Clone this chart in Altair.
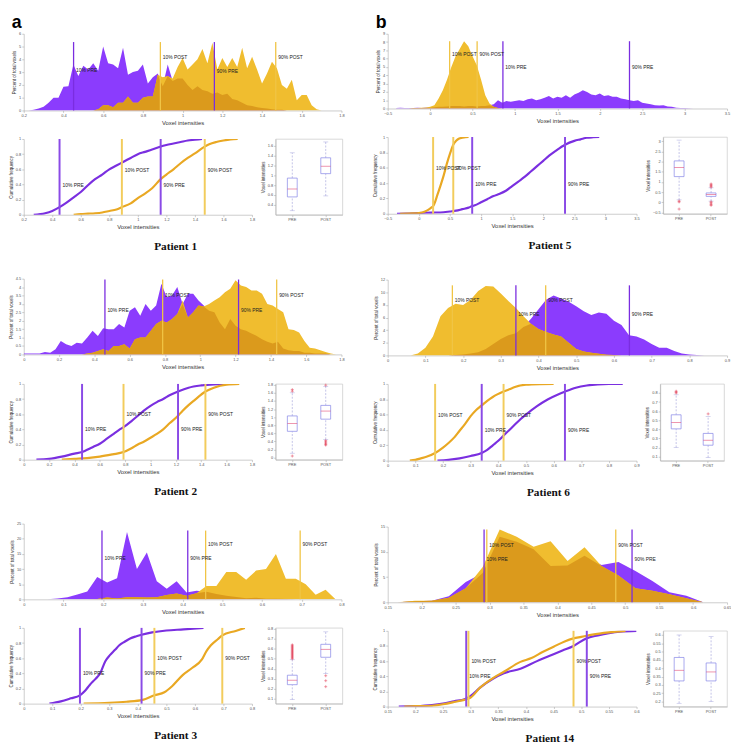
import altair as alt
import pandas as pd
import numpy as np

# ---------------- colours ----------------
PURPLE = "#8b3cfd"
GOLD = "#f0bd2f"
DARK = "#db9a1c"
PRE_LINE = "#7a2de0"
POST_LINE = "#f0c445"
CDF_PRE = "#7a2fe0"
CDF_POST = "#e9a823"
BOX_BLUE = "#8383e6"
MED_RED = "#e0406e"

Q_NAMES = ["10% PRE", "90% PRE", "10% POST", "90% POST"]
Q_KIND = ["PRE", "PRE", "POST", "POST"]
BOX_CATS = ["PRE", "POST"]

# ---------------- Patient 1 ----------------
p1_x = [0.225, 0.25, 0.275, 0.3, 0.325, 0.35, 0.375, 0.4, 0.425, 0.45, 0.475, 0.5, 0.525, 0.55, 0.575, 0.6,
        0.625, 0.65, 0.675, 0.7, 0.725, 0.75, 0.775, 0.8, 0.825, 0.85, 0.875, 0.9, 0.925, 0.95, 0.975, 1.0,
        1.025, 1.05, 1.075, 1.1, 1.125, 1.15, 1.175, 1.2, 1.225, 1.25, 1.275, 1.3, 1.325, 1.35, 1.375, 1.4,
        1.425, 1.45, 1.475, 1.5, 1.525, 1.55, 1.575, 1.6, 1.625, 1.65, 1.675, 1.7]
p1_pre = [0, 0.05, 0.15, 0.3, 0.6, 1.0, 1.0, 1.85, 1.9, 3.6, 2.7, 3.5, 3.2, 3.7, 3.1, 5.0,
          3.7, 3.6, 3.3, 4.9, 2.8, 3.0, 3.1, 3.6, 2.1, 2.6, 2.9, 1.9, 3.6, 2.3, 2.5, 2.5,
          2.0, 1.6, 1.9, 1.6, 1.5, 1.3, 1.4, 1.2, 1.3, 0.9, 0.8, 0.6, 0.4, 0.35, 0.25, 0.2,
          0.15, 0.1, 0.05, 0.05, 0, 0, 0, 0, 0, 0, 0, 0]
p1_post = [0, 0, 0, 0, 0, 0, 0, 0, 0, 0, 0, 0, 0, 0, 0.1, 0.4,
           0.4, 0.25, 0.6, 0.6, 1.1, 0.6, 0.6, 1.0, 1.1, 1.1, 2.8, 2.6, 2.7, 2.5, 3.4, 4.1,
           3.2, 3.6, 4.0, 4.8, 3.7, 5.3, 3.2, 4.1, 3.4, 4.1, 3.4, 4.9, 3.3, 4.2, 3.2, 2.1,
           2.9, 3.8, 3.3, 2.0, 1.7, 2.4, 0.8, 1.2, 1.2, 0.4, 0.1, 0]
p1_q = [0.451, 1.16, 0.888, 1.469]
p1_hist_label_y = [3.2, 3.1, 4.2, 4.2]
p1_cdf_label_y = [0.39, 0.39, 0.59, 0.59]
p1_top = 5.35
p1_cdf_pre_x = [0.27, 0.35, 0.4, 0.451, 0.5, 0.55, 0.6, 0.65, 0.7, 0.75, 0.8, 0.85, 0.9, 0.95, 1.0, 1.05,
                1.1, 1.16, 1.2, 1.25, 1.3, 1.35, 1.4, 1.45]
p1_cdf_pre_y = [0, 0.02, 0.05, 0.1, 0.16, 0.23, 0.3, 0.39, 0.47, 0.53, 0.6, 0.65, 0.7, 0.75, 0.8, 0.83,
                0.86, 0.9, 0.92, 0.94, 0.96, 0.98, 0.99, 1.0]
p1_cdf_post_x = [0.55, 0.6, 0.65, 0.7, 0.75, 0.8, 0.85, 0.888, 0.95, 1.0, 1.05, 1.1, 1.16, 1.2, 1.25, 1.3,
                 1.35, 1.4, 1.469, 1.5, 1.55, 1.6, 1.65, 1.7]
p1_cdf_post_y = [0, 0.01, 0.015, 0.02, 0.03, 0.05, 0.07, 0.1, 0.15, 0.22, 0.28, 0.35, 0.47, 0.53, 0.6, 0.68,
                 0.75, 0.81, 0.9, 0.93, 0.96, 0.98, 0.995, 1.0]
p1_box_lo = [0.28, 0.58]
p1_box_q1 = [0.56, 1.03]
p1_box_med = [0.72, 1.18]
p1_box_q3 = [0.94, 1.35]
p1_box_hi = [1.45, 1.67]
p1_out_cat = []
p1_out_val = []

# ---------------- Patient 2 ----------------
p2_x = [0.0, 0.03, 0.06, 0.09, 0.12, 0.15, 0.18, 0.21, 0.24, 0.27, 0.3, 0.33, 0.36, 0.39, 0.42, 0.45,
        0.48, 0.51, 0.54, 0.57, 0.6, 0.63, 0.66, 0.69, 0.72, 0.75, 0.78, 0.81, 0.84, 0.87, 0.9, 0.93,
        0.96, 0.99, 1.02, 1.05, 1.08, 1.11, 1.14, 1.17, 1.2, 1.23, 1.26, 1.29, 1.32, 1.35, 1.38, 1.41,
        1.44, 1.47, 1.5, 1.53, 1.56, 1.59, 1.62, 1.65, 1.68, 1.71, 1.74, 1.77]
p2_pre = [0.05, 0.05, 0.05, 0.05, 0.15, 0.1, 0.3, 0.8, 0.6, 0.5, 0.7, 0.65, 1.0, 1.4, 1.1, 1.55,
          1.5, 1.5, 1.8, 1.6, 2.6, 2.8, 2.3, 3.0, 2.6, 2.9, 4.2, 3.4, 3.5, 4.0, 3.0, 3.6,
          3.6, 3.2, 2.9, 2.6, 2.5, 1.9, 1.5, 2.1, 1.7, 1.5, 1.4, 1.25, 1.1, 0.9, 0.75, 0.65,
          0.75, 0.35, 0.25, 0.2, 0.2, 0.1, 0.1, 0.05, 0.05, 0.05, 0, 0]
p2_post = [0, 0, 0, 0, 0, 0, 0, 0, 0, 0, 0, 0, 0.05, 0.1, 0.2, 0.3,
           0.2, 0.5, 0.5, 0.6, 0.35, 0.9, 1.0, 1.0, 1.4, 1.8, 2.0, 1.9, 2.1, 2.4, 3.2, 2.2,
           2.5, 2.9, 2.85, 3.0, 3.2, 3.4, 3.7, 3.9, 4.4, 4.1, 4.0, 3.8, 3.8, 3.6, 3.0, 2.9,
           2.7, 2.5, 1.5, 1.45, 1.3, 0.8, 0.4, 0.35, 0.25, 0.15, 0.05, 0]
p2_q = [0.46, 1.217, 0.787, 1.433]
p2_hist_label_y = [2.65, 2.65, 3.55, 3.55]
p2_cdf_label_y = [0.4, 0.4, 0.6, 0.6]
p2_top = 4.45
p2_cdf_pre_x = [0.1, 0.2, 0.3, 0.4, 0.46, 0.5, 0.55, 0.6, 0.65, 0.7, 0.75, 0.787, 0.85, 0.9, 0.95, 1.0,
                1.05, 1.1, 1.15, 1.217, 1.3, 1.4, 1.5, 1.6]
p2_cdf_pre_y = [0, 0.01, 0.04, 0.08, 0.1, 0.13, 0.17, 0.21, 0.27, 0.33, 0.39, 0.43, 0.51, 0.58, 0.65, 0.71,
                0.76, 0.8, 0.85, 0.9, 0.95, 0.98, 0.995, 1.0]
p2_cdf_post_x = [0.3, 0.4, 0.5, 0.6, 0.7, 0.787, 0.85, 0.9, 0.95, 1.0, 1.05, 1.1, 1.15, 1.217, 1.25, 1.3,
                 1.35, 1.433, 1.5, 1.6, 1.7]
p2_cdf_post_y = [0, 0.01, 0.02, 0.04, 0.07, 0.1, 0.15, 0.2, 0.24, 0.29, 0.34, 0.4, 0.48, 0.58, 0.64, 0.72,
                 0.79, 0.9, 0.95, 0.99, 1.0]
p2_box_lo = [0.11, 0.45]
p2_box_q1 = [0.65, 0.95]
p2_box_med = [0.84, 1.15]
p2_box_q3 = [1.03, 1.29]
p2_box_hi = [1.6, 1.76]
p2_out_cat = ["PRE", "PRE", "PRE", "POST", "POST", "POST", "POST", "POST", "POST"]
p2_out_val = [1.64, 1.68, 0.04, 1.79, 0.42, 0.39, 0.36, 0.33, 0.31]

# ---------------- Patient 3 ----------------
p3_x = [0.035, 0.06, 0.085, 0.11, 0.135, 0.16, 0.185, 0.21, 0.235, 0.26, 0.285, 0.31, 0.335, 0.36, 0.385, 0.41,
        0.435, 0.46, 0.485, 0.51, 0.535, 0.56, 0.585, 0.61, 0.635, 0.66, 0.685, 0.71, 0.735, 0.76, 0.785]
p3_pre = [0, 0, 0.3, 0.7, 1.6, 2.6, 7.4, 5.6, 7.0, 22.2, 10.0, 15.5, 6.0, 3.5, 6.0, 2.3,
          2.8, 2.5, 1.8, 1.2, 0.8, 0.4, 0.5, 0.2, 0.2, 0.1, 0.05, 0.05, 0, 0, 0]
p3_post = [0, 0, 0, 0, 0, 0, 0.1, 0.6, 0.3, 0.7, 0.7, 0.6, 0.7, 1.4, 1.9, 1.2,
           2.0, 4.4, 4.4, 9.0, 9.0, 6.5, 9.5, 10.0, 15.0, 6.8, 6.8, 5.0, 1.5, 3.2, 0]
p3_q = [0.197, 0.413, 0.458, 0.696]
p3_hist_label_y = [13.6, 13.6, 18.2, 18.2]
p3_cdf_label_y = [0.41, 0.41, 0.6, 0.6]
p3_top = 22.7
p3_cdf_pre_x = [0.09, 0.13, 0.165, 0.197, 0.215, 0.232, 0.25, 0.268, 0.286, 0.302, 0.32, 0.335, 0.355, 0.373,
                0.395, 0.413, 0.45, 0.5, 0.56, 0.63]
p3_cdf_pre_y = [0, 0.03, 0.07, 0.11, 0.17, 0.25, 0.32, 0.4, 0.56, 0.64, 0.71, 0.77, 0.82, 0.86,
                0.89, 0.91, 0.94, 0.965, 0.98, 1.0]
p3_cdf_post_x = [0.21, 0.3, 0.36, 0.417, 0.458, 0.493, 0.52, 0.558, 0.59, 0.624, 0.64, 0.656, 0.68, 0.696,
                 0.743, 0.775]
p3_cdf_post_y = [0, 0.01, 0.025, 0.05, 0.11, 0.15, 0.23, 0.38, 0.47, 0.58, 0.69, 0.77, 0.85, 0.9, 0.96, 1.0]
p3_box_lo = [0.09, 0.35]
p3_box_q1 = [0.24, 0.515]
p3_box_med = [0.285, 0.595]
p3_box_q3 = [0.335, 0.645]
p3_box_hi = [0.49, 0.77]
p3_out_cat = ["PRE"] * 15 + ["POST"] * 3
p3_out_val = [0.5, 0.51, 0.52, 0.53, 0.54, 0.55, 0.56, 0.57, 0.58, 0.59, 0.6, 0.61, 0.62, 0.63, 0.64,
              0.33, 0.28, 0.22]

# ---------------- Patient 5 ----------------
p5_x = [-0.4, -0.35, -0.3, -0.25, -0.2, -0.15, -0.1, -0.05, 0.0, 0.05, 0.1, 0.15, 0.2, 0.25, 0.3, 0.35,
        0.4, 0.45, 0.5, 0.55, 0.6, 0.65, 0.7, 0.75, 0.8, 0.85, 0.9, 0.95, 1.0, 1.05, 1.1, 1.15,
        1.2, 1.25, 1.3, 1.35, 1.4, 1.45, 1.5, 1.55, 1.6, 1.65, 1.7, 1.75, 1.8, 1.85, 1.9, 1.95,
        2.0, 2.05, 2.1, 2.15, 2.2, 2.25, 2.3, 2.35, 2.4, 2.45, 2.5, 2.55, 2.6, 2.65, 2.7, 2.75,
        2.8, 2.85, 2.9, 2.95, 3.0, 3.05, 3.1]
p5_pre = [0.05, 0.1, 0.05, 0.05, 0.05, 0.1, 0.05, 0.1, 0.1, 0.15, 0.2, 0.2, 0.25, 0.3, 0.3, 0.3,
          0.25, 0.3, 0.3, 0.25, 0.3, 0.3, 0.4, 0.5, 1.0, 0.7, 0.9, 0.8, 0.9, 1.0, 0.9, 1.1,
          1.2, 1.0, 1.1, 1.3, 1.5, 1.2, 1.4, 1.3, 1.6, 1.3, 1.7, 1.9, 2.2, 2.0, 1.7, 1.6,
          1.8, 1.5, 1.6, 1.4, 1.4, 1.2, 1.1, 1.0, 0.9, 1.0, 0.7, 0.6, 0.5, 0.4, 0.35, 0.4,
          0.25, 0.2, 0.1, 0.05, 0.05, 0.02, 0]
p5_post = [0, 0, 0, 0, 0.05, 0.05, 0.1, 0.1, 0.2, 0.4, 1.2, 2.2, 3.5, 5.0, 6.3, 7.2,
           8.1, 7.5, 6.3, 5.2, 3.5, 1.6, 0.6, 0.2, 0.05, 0, 0, 0, 0, 0, 0, 0,
           0, 0, 0, 0, 0, 0, 0, 0, 0, 0, 0, 0, 0, 0, 0, 0,
           0, 0, 0, 0, 0, 0, 0, 0, 0, 0, 0, 0, 0, 0, 0, 0,
           0, 0, 0, 0, 0, 0, 0]
p5_q = [0.858, 2.35, 0.23, 0.554]
p5_hist_label_y = [5.0, 5.0, 6.5, 6.5]
p5_cdf_label_y = [0.39, 0.39, 0.59, 0.59]
p5_top = 8.1
p5_cdf_pre_x = [-0.35, -0.2, 0.0, 0.2, 0.4, 0.5, 0.6, 0.7, 0.8, 0.858, 0.9, 1.0, 1.1, 1.2, 1.3, 1.4,
                1.5, 1.6, 1.7, 1.8, 1.9, 2.0, 2.1, 2.2, 2.35, 2.5, 2.6, 2.7, 2.8, 2.9]
p5_cdf_pre_y = [0, 0.003, 0.01, 0.015, 0.02, 0.03, 0.04, 0.06, 0.08, 0.1, 0.11, 0.15, 0.19, 0.23, 0.26, 0.3,
                0.36, 0.42, 0.48, 0.55, 0.62, 0.69, 0.76, 0.82, 0.9, 0.95, 0.97, 0.99, 0.997, 1.0]
p5_cdf_post_x = [-0.3, -0.1, 0.0, 0.1, 0.15, 0.2, 0.23, 0.25, 0.3, 0.35, 0.4, 0.45, 0.5, 0.554, 0.6, 0.65,
                 0.7, 0.75, 0.8]
p5_cdf_post_y = [0, 0.005, 0.01, 0.03, 0.05, 0.08, 0.1, 0.13, 0.25, 0.37, 0.5, 0.65, 0.78, 0.9, 0.95, 0.98,
                 0.99, 0.997, 1.0]
p5_box_lo = [0.12, 0.06]
p5_box_q1 = [1.26, 0.29]
p5_box_med = [1.71, 0.38]
p5_box_q3 = [2.03, 0.46]
p5_box_hi = [3.05, 0.71]
p5_out_cat = ["PRE", "PRE", "PRE", "POST", "POST", "POST", "POST", "POST", "POST", "POST", "POST"]
p5_out_val = [0.06, 0.02, -0.33, 0.75, 0.8, 0.85, 0.9, 0.02, -0.03, -0.1, -0.15]

# ---------------- Patient 6 ----------------
p6_x = [0.06, 0.08, 0.1, 0.12, 0.14, 0.16, 0.18, 0.2, 0.22, 0.24, 0.26, 0.28, 0.3, 0.32, 0.34, 0.36,
        0.38, 0.4, 0.42, 0.44, 0.46, 0.48, 0.5, 0.52, 0.54, 0.56, 0.58, 0.6, 0.62, 0.64, 0.66, 0.68,
        0.7, 0.72, 0.74, 0.76, 0.78, 0.8, 0.82, 0.84]
p6_pre = [0, 0, 0, 0, 0, 0, 0.05, 0.15, 0.3, 0.5, 1.0, 1.8, 2.6, 3.2, 3.5, 4.5,
          5.8, 7.3, 8.8, 9.5, 9.0, 8.5, 7.8, 7.0, 6.4, 6.8, 6.6, 5.5, 4.8, 3.2, 3.0, 2.5,
          1.8, 1.2, 1.2, 0.7, 0.3, 0.15, 0.05, 0]
p6_post = [0, 0.3, 1.2, 3.0, 6.2, 7.5, 8.2, 8.0, 8.8, 10.2, 11.0, 10.9, 9.8, 8.6, 7.5, 6.2,
           5.0, 4.2, 3.7, 3.3, 3.0, 2.0, 1.0, 0.6, 0.4, 0.25, 0.1, 0.05, 0, 0, 0, 0,
           0, 0, 0, 0, 0, 0, 0, 0]
p6_q = [0.34, 0.641, 0.1715, 0.419]
p6_hist_label_y = [6.6, 6.6, 8.8, 8.8]
p6_cdf_label_y = [0.4, 0.4, 0.6, 0.6]
p6_top = 11.1
p6_cdf_pre_x = [0.18, 0.22, 0.26, 0.3, 0.34, 0.36, 0.38, 0.4, 0.42, 0.44, 0.46, 0.48, 0.5, 0.54, 0.58, 0.62,
                0.641, 0.68, 0.72, 0.76, 0.8, 0.85]
p6_cdf_pre_y = [0, 0.01, 0.03, 0.06, 0.1, 0.14, 0.2, 0.26, 0.33, 0.4, 0.47, 0.54, 0.6, 0.71, 0.8, 0.87,
                0.9, 0.95, 0.98, 0.995, 0.999, 1.0]
p6_cdf_post_x = [0.08, 0.1, 0.12, 0.14, 0.1715, 0.2, 0.22, 0.24, 0.26, 0.28, 0.3, 0.32, 0.34, 0.36, 0.38,
                 0.419, 0.44, 0.46, 0.5, 0.55, 0.6]
p6_cdf_post_y = [0, 0.01, 0.03, 0.05, 0.1, 0.17, 0.23, 0.3, 0.39, 0.48, 0.58, 0.66, 0.72, 0.78, 0.83,
                 0.9, 0.93, 0.96, 0.99, 0.998, 1.0]
p6_box_lo = [0.2, 0.09]
p6_box_q1 = [0.405, 0.225]
p6_box_med = [0.475, 0.28]
p6_box_q3 = [0.56, 0.355]
p6_box_hi = [0.78, 0.54]
p6_out_cat = ["PRE", "PRE", "PRE", "POST"]
p6_out_val = [0.8, 0.81, 0.82, 0.57]

# ---------------- Patient 14 ----------------
p14_x = [0.165, 0.19, 0.215, 0.24, 0.265, 0.29, 0.315, 0.34, 0.365, 0.39, 0.415, 0.44, 0.465, 0.49, 0.515,
         0.54, 0.565, 0.59, 0.615]
p14_pre = [0, 0.2, 0.3, 1.2, 4.0, 5.8, 13.0, 12.0, 10.5, 7.2, 7.3, 9.2, 7.4, 8.0, 6.2, 4.2, 2.0, 1.3, 0]
p14_post = [0, 0.3, 0.3, 0.9, 2.8, 7.0, 14.4, 13.0, 11.0, 12.1, 8.2, 10.9, 7.2, 5.3, 2.8, 2.3, 1.6, 0.8, 0]
p14_q = [0.292, 0.51, 0.296, 0.486]
p14_hist_label_y = [8.6, 8.6, 11.4, 11.4]
p14_cdf_label_y = [0.4, 0.4, 0.6, 0.6]
p14_top = 14.4
p14_cdf_pre_x = [0.17, 0.2, 0.23, 0.25, 0.27, 0.29, 0.3, 0.317, 0.341, 0.36, 0.39, 0.42, 0.443, 0.466, 0.486,
                 0.509, 0.53, 0.55, 0.57, 0.6]
p14_cdf_pre_y = [0, 0.005, 0.02, 0.04, 0.07, 0.1, 0.14, 0.25, 0.37, 0.44, 0.5, 0.6, 0.67, 0.74, 0.8,
                 0.9, 0.94, 0.97, 0.99, 1.0]
p14_cdf_post_x = [0.18, 0.2, 0.23, 0.25, 0.27, 0.2935, 0.3, 0.317, 0.341, 0.36, 0.39, 0.41, 0.43, 0.45, 0.47,
                  0.486, 0.5, 0.52, 0.55, 0.58]
p14_cdf_post_y = [0, 0.005, 0.01, 0.03, 0.06, 0.1, 0.12, 0.25, 0.38, 0.46, 0.59, 0.64, 0.72, 0.79, 0.86,
                  0.9, 0.92, 0.95, 0.98, 1.0]
p14_box_lo = [0.19, 0.2]
p14_box_q1 = [0.324, 0.324]
p14_box_med = [0.388, 0.378]
p14_box_q3 = [0.465, 0.432]
p14_box_hi = [0.6, 0.59]
p14_out_cat = []
p14_out_val = []


def frange(a, b, s):
    n = int(round((b - a) / s))
    return [round(a + i * s, 4) for i in range(n + 1)]


def xenc(field, dom, ticks, title="Voxel intensities"):
    sc = alt.Scale(domain=dom, nice=False, zero=False)
    return alt.X(field, type="quantitative", scale=sc,
                 axis=alt.Axis(values=ticks, format="~g", title=title))


def yenc(field, dom, ticks, title):
    sc = alt.Scale(domain=dom, nice=False, zero=False)
    return alt.Y(field, type="quantitative", scale=sc,
                 axis=alt.Axis(values=ticks, format="~g", title=title))


def quant_df(q, label_y, top):
    return pd.DataFrame({"v": q, "name": Q_NAMES, "kind": Q_KIND, "ly": label_y,
                         "zero": [0] * 4, "top": [top] * 4})


def hist_panel(x, pre, post, q, label_y, top, xdom, xt, ydom, yt, w, h, title=None):
    df = pd.DataFrame({"x": x, "pre": pre, "post": post})
    df["ovl"] = np.minimum(df["pre"], df["post"])
    yt_ = "Percent of total voxels"
    base = alt.Chart(df)
    a1 = base.mark_area(color=PURPLE, clip=True).encode(
        x=xenc("x", xdom, xt), y=yenc("pre", ydom, yt, yt_))
    a2 = base.mark_area(color=GOLD, clip=True).encode(
        x=xenc("x", xdom, xt), y=yenc("post", ydom, yt, yt_))
    a3 = base.mark_area(color=DARK, clip=True).encode(
        x=xenc("x", xdom, xt), y=yenc("ovl", ydom, yt, yt_))
    qd = alt.Chart(quant_df(q, label_y, top))
    cscale = alt.Scale(domain=["PRE", "POST"], range=[PRE_LINE, POST_LINE])
    rules = qd.mark_rule(strokeWidth=1.3).encode(
        x=xenc("v", xdom, xt), y=yenc("zero", ydom, yt, yt_),
        y2="top:Q", color=alt.Color("kind:N", scale=cscale, legend=None))
    texts = qd.mark_text(align="left", baseline="middle", dx=2.5, fontSize=5, color="#222",
                         font="Liberation Sans").encode(
        x=xenc("v", xdom, xt), y=yenc("ly", ydom, yt, yt_), text="name:N")
    ch = alt.layer(a1, a2, a3, rules, texts).properties(width=w, height=h)
    if title is not None:
        ch = ch.properties(title=title)
    return ch


def cdf_panel(px, py, qx, qy, q, label_y, xdom, xt, w, h):
    d = pd.DataFrame({"x": list(px) + list(qx), "y": list(py) + list(qy),
                      "s": ["PRE"] * len(px) + ["POST"] * len(qx)})
    ydom = [0, 1]
    yt = frange(0, 1, 0.2)
    yt_ = "Cumulative frequency"
    cscale = alt.Scale(domain=["PRE", "POST"], range=[CDF_PRE, CDF_POST])
    lines = alt.Chart(d).mark_line(strokeWidth=2.2, interpolate="monotone", clip=True).encode(
        x=xenc("x", xdom, xt), y=yenc("y", ydom, yt, yt_),
        color=alt.Color("s:N", scale=cscale, legend=None), detail="s:N")
    qd = alt.Chart(quant_df(q, label_y, 1))
    lscale = alt.Scale(domain=["PRE", "POST"], range=["#8a4ae6", "#f2cc5c"])
    rules = qd.mark_rule(strokeWidth=2).encode(
        x=xenc("v", xdom, xt), y=yenc("zero", ydom, yt, yt_),
        y2="top:Q", color=alt.Color("kind:N", scale=lscale, legend=None))
    texts = qd.mark_text(align="left", baseline="middle", dx=3, fontSize=5, color="#222",
                         font="Liberation Sans").encode(
        x=xenc("v", xdom, xt), y=yenc("ly", ydom, yt, yt_), text="name:N")
    return alt.layer(lines, rules, texts).resolve_scale(color="independent").properties(width=w, height=h)


def box_panel(lo, q1, med, q3, hi, ocat, oval, ydom, yt, w, h):
    d = pd.DataFrame({"cat": BOX_CATS, "lo": lo, "q1": q1, "med": med, "q3": q3, "hi": hi})
    od = pd.DataFrame({"cat": ocat, "val": oval})
    X = alt.X("cat:N", scale=alt.Scale(domain=BOX_CATS, paddingInner=0, paddingOuter=0),
              axis=alt.Axis(title=None, labelAngle=0, ticks=True))
    yt_ = "Voxel intensities"
    base = alt.Chart(d)
    wcol = "#9a9ad8"
    w1 = base.mark_rule(strokeDash=[2, 1.5], strokeWidth=0.6, color=wcol).encode(
        x=X, y=yenc("lo", ydom, yt, yt_), y2="q1:Q")
    w2 = base.mark_rule(strokeDash=[2, 1.5], strokeWidth=0.6, color=wcol).encode(
        x=X, y=yenc("q3", ydom, yt, yt_), y2="hi:Q")
    c1 = base.mark_tick(size=5, thickness=0.6, color=wcol).encode(
        x=X, y=yenc("lo", ydom, yt, yt_))
    c2 = base.mark_tick(size=5, thickness=0.6, color=wcol).encode(
        x=X, y=yenc("hi", ydom, yt, yt_))
    bx = base.mark_bar(size=10, fill="white", stroke=BOX_BLUE, strokeWidth=0.7).encode(
        x=X, y=yenc("q1", ydom, yt, yt_), y2="q3:Q")
    md = base.mark_tick(size=10, thickness=0.8, color=MED_RED).encode(
        x=X, y=yenc("med", ydom, yt, yt_))
    layers = [w1, w2, c1, c2, bx, md]
    if len(oval) > 0:
        ou = alt.Chart(od).mark_point(shape="M-1,0L1,0M0,-1L0,1", size=9, filled=False,
                                      strokeWidth=0.7, color="#e0304a").encode(
            x=X, y=yenc("val", ydom, yt, yt_))
        layers.append(ou)
    return alt.layer(*layers).properties(
        width=w, height=h, view=alt.ViewBackground(stroke="#c8c8c8", strokeWidth=0.7))


def patient_label(n):
    return alt.Title("Patient %d" % n, orient="bottom", anchor="middle", font="Liberation Serif",
                     fontSize=11.5, fontWeight="bold", color="#111", offset=12)


def letter(t):
    return alt.Title(t, anchor="start", frame="bounds", fontSize=18, fontWeight="bold",
                     font="Liberation Sans", color="#000", offset=0)


S_INNER = 12
S_ROW = 5

# ----- column a -----
WA_H, WA_C, WA_B = 323, 232, 68
h1 = hist_panel(p1_x, p1_pre, p1_post, p1_q, p1_hist_label_y, p1_top, [0.2, 1.8], frange(0.2, 1.8, 0.2),
                [0, 6], frange(0, 6, 1), WA_H, 78, letter("a"))
r1 = alt.hconcat(
    cdf_panel(p1_cdf_pre_x, p1_cdf_pre_y, p1_cdf_post_x, p1_cdf_post_y, p1_q, p1_cdf_label_y,
              [0.2, 1.8], frange(0.2, 1.8, 0.2), WA_C, 77),
    box_panel(p1_box_lo, p1_box_q1, p1_box_med, p1_box_q3, p1_box_hi, p1_out_cat, p1_out_val,
              [0.2, 1.73], frange(0.4, 1.6, 0.2), WA_B, 77),
    spacing=S_ROW, title=patient_label(1))
h2 = hist_panel(p2_x, p2_pre, p2_post, p2_q, p2_hist_label_y, p2_top, [0, 1.8], frange(0, 1.8, 0.2),
                [0, 4.5], frange(0, 4.5, 0.5), WA_H, 77)
r2 = alt.hconcat(
    cdf_panel(p2_cdf_pre_x, p2_cdf_pre_y, p2_cdf_post_x, p2_cdf_post_y, p2_q, p2_cdf_label_y,
              [0, 1.8], frange(0, 1.8, 0.2), WA_C, 77),
    box_panel(p2_box_lo, p2_box_q1, p2_box_med, p2_box_q3, p2_box_hi, p2_out_cat, p2_out_val,
              [-0.05, 1.82], frange(0, 1.8, 0.2), WA_B, 77),
    spacing=S_ROW, title=patient_label(2))
h3 = hist_panel(p3_x, p3_pre, p3_post, p3_q, p3_hist_label_y, p3_top, [0, 0.8], frange(0, 0.8, 0.1),
                [0, 25], frange(0, 25, 5), WA_H, 77)
r3 = alt.hconcat(
    cdf_panel(p3_cdf_pre_x, p3_cdf_pre_y, p3_cdf_post_x, p3_cdf_post_y, p3_q, p3_cdf_label_y,
              [0, 0.8], frange(0, 0.8, 0.1), WA_C, 77),
    box_panel(p3_box_lo, p3_box_q1, p3_box_med, p3_box_q3, p3_box_hi, p3_out_cat, p3_out_val,
              [0.05, 0.81], frange(0.1, 0.8, 0.1), WA_B, 77),
    spacing=S_ROW, title=patient_label(3))

col_a = alt.vconcat(alt.vconcat(h1, r1, spacing=S_INNER),
                    alt.vconcat(h2, r2, spacing=S_INNER),
                    alt.vconcat(h3, r3, spacing=S_INNER), spacing=24)

# ----- column b -----
WB_H, WB_C, WB_B = 345, 253, 65
h5 = hist_panel(p5_x, p5_pre, p5_post, p5_q, p5_hist_label_y, p5_top, [-0.5, 3.5], frange(-0.5, 3.5, 0.5),
                [0, 9], frange(0, 9, 1), WB_H, 76, letter("b"))
r5 = alt.hconcat(
    cdf_panel(p5_cdf_pre_x, p5_cdf_pre_y, p5_cdf_post_x, p5_cdf_post_y, p5_q, p5_cdf_label_y,
              [-0.5, 3.5], frange(-0.5, 3.5, 0.5), WB_C, 78),
    box_panel(p5_box_lo, p5_box_q1, p5_box_med, p5_box_q3, p5_box_hi, p5_out_cat, p5_out_val,
              [-0.56, 3.2], frange(-0.5, 3.0, 0.5), WB_B, 78),
    spacing=S_ROW, title=patient_label(5))
h6 = hist_panel(p6_x, p6_pre, p6_post, p6_q, p6_hist_label_y, p6_top, [0, 0.9], frange(0, 0.9, 0.1),
                [0, 12], frange(0, 12, 2), WB_H, 77)
r6 = alt.hconcat(
    cdf_panel(p6_cdf_pre_x, p6_cdf_pre_y, p6_cdf_post_x, p6_cdf_post_y, p6_q, p6_cdf_label_y,
              [0, 0.9], frange(0, 0.9, 0.1), WB_C, 78),
    box_panel(p6_box_lo, p6_box_q1, p6_box_med, p6_box_q3, p6_box_hi, p6_out_cat, p6_out_val,
              [0.055, 0.9], frange(0.1, 0.8, 0.1), WB_B, 78),
    spacing=S_ROW, title=patient_label(6))
h14 = hist_panel(p14_x, p14_pre, p14_post, p14_q, p14_hist_label_y, p14_top, [0.15, 0.65],
                 frange(0.15, 0.65, 0.05), [0, 15], frange(0, 15, 5), WB_H, 77)
r14 = alt.hconcat(
    cdf_panel(p14_cdf_pre_x, p14_cdf_pre_y, p14_cdf_post_x, p14_cdf_post_y, p14_q, p14_cdf_label_y,
              [0.15, 0.6], frange(0.15, 0.6, 0.05), WB_C, 77),
    box_panel(p14_box_lo, p14_box_q1, p14_box_med, p14_box_q3, p14_box_hi, p14_out_cat, p14_out_val,
              [0.17, 0.625], frange(0.2, 0.6, 0.05), WB_B, 77),
    spacing=S_ROW, title=patient_label(14))

col_b = alt.vconcat(alt.vconcat(h5, r5, spacing=S_INNER),
                    alt.vconcat(h6, r6, spacing=S_INNER),
                    alt.vconcat(h14, r14, spacing=S_INNER), spacing=26)

chart = alt.hconcat(col_a, col_b, spacing=28).properties(
    padding={"left": 0, "top": 0, "right": 0, "bottom": 0}
).configure_view(stroke=None).configure_axis(
    labelFontSize=4, labelColor="#555", labelFont="Liberation Sans",
    titleFontSize=4.5, titleColor="#333", titleFont="Liberation Sans", titleFontWeight="normal",
    domainColor="#aaa", tickColor="#aaa", tickSize=2, labelPadding=1, titlePadding=2,
    domainWidth=0.6, tickWidth=0.6, grid=False, labelFlush=False, labelOverlap=False
).configure_axisX(titleFontSize=6).configure_title(font="Liberation Sans")

chart.save("out.html", embed_options={"renderer": "svg", "actions": False})
